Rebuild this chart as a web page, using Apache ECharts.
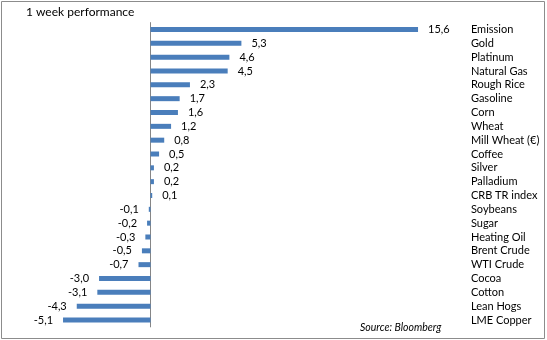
<!DOCTYPE html>
<html>
<head>
<meta charset="utf-8">
<script src="https://cdn.jsdelivr.net/npm/echarts@6/dist/echarts.min.js"></script>
<style>html,body{margin:0;padding:0;background:#fff}#c{width:547px;height:340px}</style>
</head>
<body>
<div id="c"></div>
<script>
const categories = ["Emission","Gold","Platinum","Natural Gas","Rough Rice","Gasoline","Corn","Wheat","Mill Wheat (€)","Coffee","Silver","Palladium","CRB TR index","Soybeans","Sugar","Heating Oil","Brent Crude","WTI Crude","Cocoa","Cotton","Lean Hogs","LME Copper"];
const values = [15.6,5.3,4.6,4.5,2.3,1.7,1.6,1.2,0.8,0.5,0.2,0.2,0.1,-0.1,-0.2,-0.3,-0.5,-0.7,-3.0,-3.1,-4.3,-5.1];
const titleText = "1 week performance";
const sourceText = "Source: Bloomberg";

const FONT = "Lato";
const chart = echarts.init(document.getElementById('c'), null, {renderer: 'canvas'});
chart.setOption({
  animation: false,
  backgroundColor: '#ffffff',
  textStyle: {fontFamily: FONT},
  grid: {left: 47.6, right: 122.1, top: 22.6, bottom: 13.1, containLabel: false},
  xAxis: {
    type: 'value', min: -6, max: 16, show: false
  },
  yAxis: [
    {
      type: 'category', data: categories, inverse: true, position: 'left',
      axisLine: {show: true, onZero: true, lineStyle: {color: '#868686', width: 1}},
      axisTick: {show: false}, axisLabel: {show: false}, splitLine: {show: false}
    },
    {
      type: 'category', data: categories, inverse: true, position: 'right',
      axisLine: {show: false}, axisTick: {show: false}, splitLine: {show: false},
      axisLabel: {show: true, interval: 0, margin: 46, align: 'left', fontFamily: FONT, fontSize: 11, color: '#000'}
    }
  ],
  series: [{
    type: 'bar', yAxisIndex: 0, barWidth: 5,
    itemStyle: {color: '#4a7ebb'},
    label: {
      show: true, distance: 10, fontFamily: FONT, fontSize: 11, color: '#000',
      formatter: p => p.value.toFixed(1).replace('.', ',')
    },
    data: values.map(v => ({value: v, label: {position: v < 0 ? 'left' : 'right'}}))
  }],
  graphic: [
    {type: 'rect', shape: {x: 1.5, y: 1.5, width: 543, height: 337}, style: {fill: null, stroke: '#8c8c8c', lineWidth: 1}, silent: true},
    {type: 'text', x: 26, y: 12.5, style: {text: titleText, font: '12px ' + FONT, fill: '#000', align: 'left', verticalAlign: 'middle'}},
    {type: 'text', x: 360, y: 328, style: {text: sourceText, font: 'italic 10.5px ' + FONT, fill: '#000', align: 'left', verticalAlign: 'middle'}}
  ]
});
</script>
</body>
</html>
